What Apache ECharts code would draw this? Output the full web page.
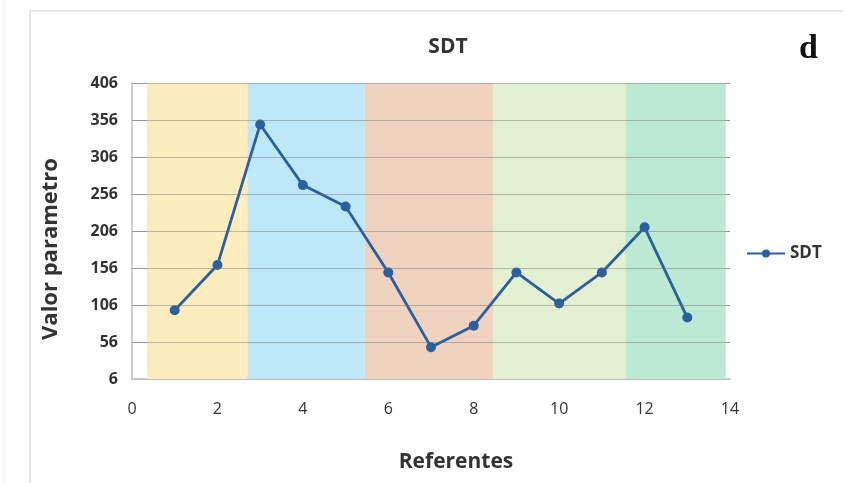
<!DOCTYPE html>
<html>
<head>
<meta charset="utf-8">
<script src="https://cdn.jsdelivr.net/npm/echarts@6/dist/echarts.min.js"></script>
<style>
  html, body { margin: 0; padding: 0; background: #fff; }
  #main { width: 843px; height: 483px; }
</style>
</head>
<body>
<div id="main"></div>
<script>
// datos
var referentes = [1, 2, 3, 4, 5, 6, 7, 8, 9, 10, 11, 12, 13];
var sdtValues = [99, 160, 350, 268, 239, 150, 49, 78, 150, 108, 150, 211, 89];
var yTicks = [6, 56, 106, 156, 206, 256, 306, 356, 406];
var xTicks = [0, 2, 4, 6, 8, 10, 12, 14];
// zonas de fondo (limites y colores)
var bandEdges = [0.35, 2.7, 5.45, 8.45, 11.55, 13.9];
var bandColors = ['#fdedbe', '#bee8f8', '#f0d2c0', '#e3f1d2', '#bce9d3'];

var font = "'Open Sans', sans-serif";

var bands = [];
for (var i = 0; i < bandColors.length; i++) {
  bands.push([
    { xAxis: bandEdges[i], itemStyle: { color: bandColors[i] } },
    { xAxis: bandEdges[i + 1] }
  ]);
}
// lineas de la cuadricula encima de las zonas
var gridLines = yTicks.slice(1).map(function (v) { return { yAxis: v }; });

var myChart = echarts.init(document.getElementById('main'));

var option = {
  animation: false,
  backgroundColor: '#fff',
  title: {
    text: 'SDT',
    left: 443,
    top: 32,
    textAlign: 'center',
    textStyle: { fontFamily: font, fontSize: 21, fontWeight: 'bold', color: '#333' }
  },
  legend: {
    data: ['SDT'],
    left: 741,
    top: 240,
    itemWidth: 38,
    itemHeight: 10,
    itemGap: 4,
    textStyle: { fontFamily: font, fontSize: 17, fontWeight: 'bold', color: '#333' }
  },
  grid: { left: 132, right: 113, top: 83, bottom: 104 },
  graphic: [
    { type: 'line', shape: { x1: 30, y1: 11, x2: 843, y2: 11 }, style: { stroke: '#dcdcdc', lineWidth: 1.5 } },
    { type: 'line', shape: { x1: 30, y1: 11, x2: 30, y2: 483 }, style: { stroke: '#dcdcdc', lineWidth: 1.5 } },
    { type: 'line', shape: { x1: 4, y1: 0, x2: 4, y2: 483 }, style: { stroke: '#e6e6e6', lineWidth: 1 } },
    { type: 'text', left: 799, top: 32, style: { text: 'd', font: 'bold 34px "Liberation Serif", serif', fill: '#111' } },
    {
      type: 'text', x: 51, y: 249, rotation: Math.PI / 2,
      style: { text: 'Valor parametro', font: 'bold 22px ' + font, fill: '#333', align: 'center', verticalAlign: 'middle' }
    },
    {
      type: 'text', x: 456, y: 462,
      style: { text: 'Referentes', font: 'bold 21px ' + font, fill: '#333', align: 'center', verticalAlign: 'middle' }
    }
  ],
  xAxis: {
    type: 'value',
    min: 0,
    max: 14,
    interval: 2,
    axisLine: { show: true, lineStyle: { color: '#bfbfbf', width: 1.5 } },
    axisTick: { show: false },
    splitLine: { show: false },
    axisLabel: { fontFamily: font, fontSize: 16, color: '#333', margin: 22 }
  },
  yAxis: {
    type: 'value',
    min: 6,
    max: 406,
    interval: 50,
    axisLine: { show: true, lineStyle: { color: '#bfbfbf', width: 1.5 } },
    axisTick: { show: false },
    splitLine: { show: true, lineStyle: { color: '#b8b8b8', width: 1 } },
    axisLabel: { fontFamily: font, fontSize: 16, fontWeight: 'bold', color: '#333', margin: 14 }
  },
  series: [
    {
      name: 'zonas',
      type: 'line',
      data: [],
      z: 0,
      silent: true,
      markArea: { silent: true, data: bands }
    },
    {
      name: 'rejilla',
      type: 'line',
      data: [],
      z: 1,
      silent: true,
      markLine: {
        silent: true,
        symbol: ['none', 'none'],
        label: { show: false },
        lineStyle: { color: 'rgba(110,110,110,0.45)', width: 1, type: 'solid' },
        data: gridLines
      }
    },
    {
      name: 'SDT',
      type: 'line',
      z: 3,
      data: referentes.map(function (x, i) { return [x, sdtValues[i]]; }),
      symbol: 'circle',
      symbolSize: 10,
      lineStyle: { color: '#2c5f9e', width: 2.8 },
      itemStyle: { color: '#2c5f9e' }
    }
  ]
};

myChart.setOption(option, true);
</script>
</body>
</html>
